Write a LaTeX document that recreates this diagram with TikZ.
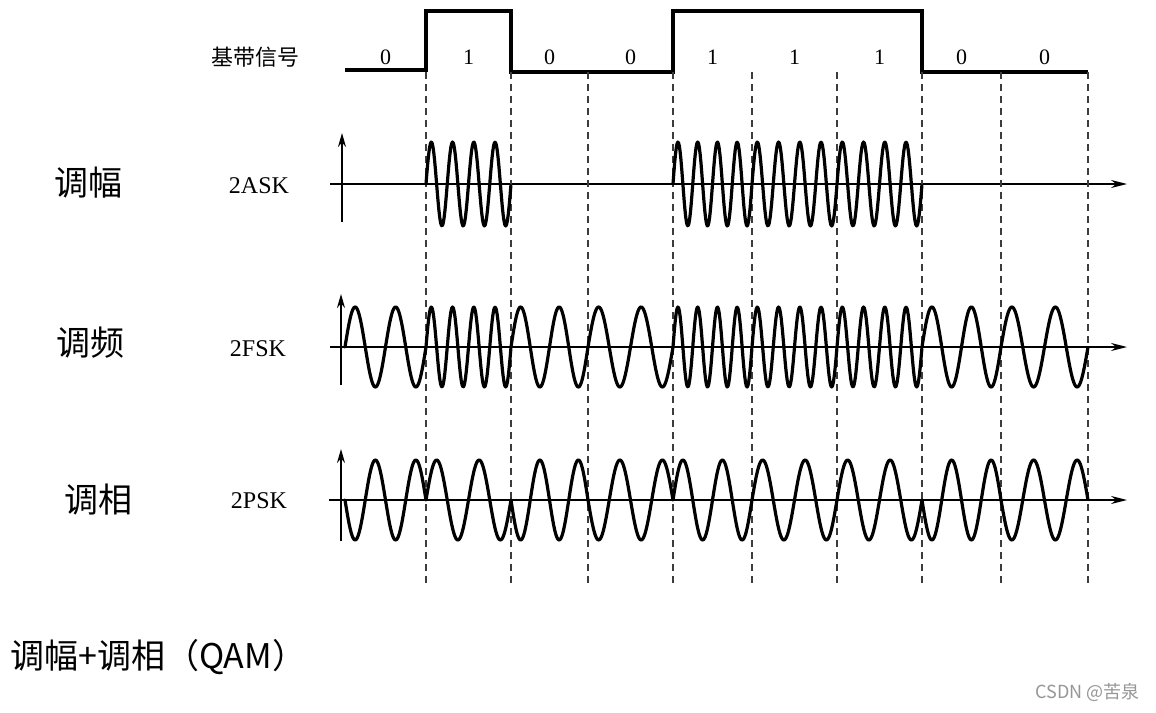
\documentclass[tikz,border=0pt]{standalone}
\usepackage{fontspec}
\setmainfont{Liberation Serif}
\newfontfamily\cjk{Noto Sans CJK SC}
\usepackage{xcolor}
\definecolor{markgray}{RGB}{150, 150, 150}
\definecolor{guidegray}{RGB}{60, 60, 60}
\usepackage{tikz}
\usetikzlibrary{arrows.meta,positioning}

\begin{document}
\begin{tikzpicture}[
    x=1pt, y=-1pt,
    bitlabel/.style={inner sep=0pt, font=\fontsize{22}{26}\selectfont},
    kindlabel/.style={inner sep=0pt, font=\fontsize{24}{28}\selectfont},
    rowlabel/.style={inner sep=0pt, font=\cjk\fontsize{34}{40}\selectfont},
    axis/.style={line width=1.8pt, -{Stealth[length=16pt, width=8pt]}},
    wave/.style={line width=3.2pt, line cap=round, line join=round},
    guide/.style={line width=1.5pt, draw=guidegray, dash pattern=on 7pt off 5pt},
    level/.style={line width=3.1pt, line join=miter}
]
\useasboundingbox (0,0) rectangle (1156,712);
\fill[white] (0,0) rectangle (1156,712);

% baseband signal
\node[inner sep=0pt, font=\cjk\fontsize{22}{26}\selectfont] (base) at (255,57) {基带信号};
\draw[level] (345,70) -- (426,70) -- (426,11) -- (511,11) -- (511,72) -- (673,72)
  -- (673,11) -- (922,11) -- (922,72) -- (1088,72);

% axes
\coordinate (askL) at (330,184);  \coordinate (askR) at (1127,184);
\coordinate (fskL) at (330,347);  \coordinate (fskR) at (1127,347);
\coordinate (pskL) at (329,500);  \coordinate (pskR) at (1127,500);
\coordinate (askB) at (342,222);  \coordinate (askT) at (342,133);
\coordinate (fskB) at (341,385);  \coordinate (fskT) at (341,294);
\coordinate (pskB) at (341,541);  \coordinate (pskT) at (341,449);
\draw[axis] (askL) -- (askR);
\draw[axis] (fskL) -- (fskR);
\draw[axis] (pskL) -- (pskR);
\draw[axis, -{Stealth[length=14pt, width=8pt]}] (askB) -- (askT);
\draw[axis, -{Stealth[length=14pt, width=8pt]}] (fskB) -- (fskT);
\draw[axis, -{Stealth[length=14pt, width=8pt]}] (pskB) -- (pskT);

% row labels
\node[rowlabel] (am) at (88,183) {调幅};
\node[rowlabel] (fm) at (90,343) {调频};
\node[rowlabel] (pm) at (98,500) {调相};
\node[kindlabel] (ask) at (259,186) {2ASK};
\node[kindlabel] (fsk) at (258,349) {2FSK};
\node[kindlabel] (psk) at (259,501) {2PSK};

% one bit at a time
\foreach \xa/\xb/\b [count=\i] in {345/426/0, 426/511/1, 511/588/0, 588/673/0,
    673/752/1, 752/837/1, 837/922/1, 922/1001/0, 1001/1088/0} {
  \node[bitlabel] (bit\i) at ({(\xa+\xb)/2},57) {\b};
  \draw[guide] (\xb,72) -- (\xb,585);
  \ifnum\b=1
    \draw[wave] plot[domain=0:1, samples=100] ({\xa+(\xb-\xa)*\x}, {184-42*sin(1440*\x)});
  \fi
  \draw[wave] plot[domain=0:1, samples=100] ({\xa+(\xb-\xa)*\x}, {347-40*sin((2+2*\b)*360*\x)});
  \draw[wave] plot[domain=0:1, samples=80] ({\xa+(\xb-\xa)*\x}, {500-40*(2*\b-1)*sin(720*\x)});
}

% bottom text
\node[inner sep=0pt, anchor=west, font=\cjk\fontsize{34}{40}\selectfont] (qam) at (10,657) {调幅+调相（QAM）};
\node[inner sep=0pt, anchor=east, text=markgray, font=\cjk\fontsize{18}{22}\selectfont] (mark) at (1140,692) {CSDN @苦泉};

\end{tikzpicture}
\end{document}
